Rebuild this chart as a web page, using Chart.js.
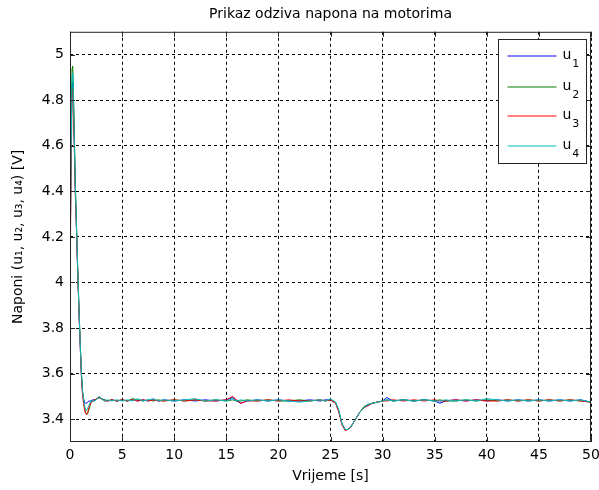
<!DOCTYPE html>
<html lang="hr">
<head>
<meta charset="utf-8">
<title>Prikaz odziva napona na motorima</title>
<script src="https://cdn.jsdelivr.net/npm/chart.js@4.4.0/dist/chart.umd.min.js"></script>
<style>
  html, body { margin: 0; padding: 0; background: #fff; }
</style>
</head>
<body>
<canvas id="odziv" width="599" height="490"></canvas>
<script>
// vrijeme [s]
const vrijeme = [
  0, 0.1, 0.2, 0.25, 0.3, 0.4, 0.5, 0.6, 0.7, 0.8,
  0.9, 1.0, 1.1, 1.2, 1.3, 1.4, 1.5, 1.6, 1.7, 1.8,
  1.9, 2.0, 2.2, 2.4, 2.6, 2.8, 3.0, 3.3, 3.6, 4.0,
  4.5, 5, 5.5, 6, 6.5, 7, 7.5, 8, 8.5, 9,
  10, 11, 12, 13, 14, 15, 15.6, 16, 16.4, 17,
  18, 19, 20, 21, 22, 23, 24, 24.5, 25, 25.5,
  25.8, 26.1, 26.4, 26.7, 27.0, 27.4, 27.8, 28.2, 28.6, 29.0,
  29.5, 30, 30.4, 31, 32, 33, 34, 35, 35.5, 36,
  37, 38, 39, 40, 41, 42, 43, 44, 45, 46,
  47, 48, 49, 50
];

// naponi motora [V]
const u1 = [
  3.99, 4.60, 4.87, 4.88, 4.84, 4.64, 4.42, 4.27, 4.11, 3.96,
  3.82, 3.70, 3.59, 3.52, 3.49, 3.475, 3.47, 3.47, 3.475, 3.48,
  3.48, 3.48, 3.485, 3.485, 3.49, 3.495, 3.49, 3.485, 3.48, 3.485,
  3.48, 3.485, 3.48, 3.485, 3.48, 3.485, 3.48, 3.485, 3.48, 3.485,
  3.48, 3.485, 3.48, 3.485, 3.48, 3.485, 3.495, 3.48, 3.47, 3.48,
  3.485, 3.48, 3.485, 3.48, 3.48, 3.485, 3.48, 3.485, 3.485, 3.47,
  3.435, 3.38, 3.355, 3.355, 3.37, 3.40, 3.43, 3.45, 3.46, 3.47,
  3.475, 3.48, 3.495, 3.48, 3.485, 3.48, 3.485, 3.48, 3.47, 3.48,
  3.485, 3.48, 3.485, 3.48, 3.485, 3.48, 3.485, 3.48, 3.485, 3.48,
  3.485, 3.48, 3.485, 3.475
];
const u2 = [
  4.02, 4.70, 4.94, 4.95, 4.90, 4.70, 4.46, 4.29, 4.13, 3.98,
  3.84, 3.72, 3.60, 3.52, 3.48, 3.45, 3.43, 3.42, 3.425, 3.44,
  3.455, 3.47, 3.48, 3.485, 3.49, 3.495, 3.49, 3.485, 3.48, 3.485,
  3.48, 3.485, 3.48, 3.49, 3.485, 3.48, 3.485, 3.48, 3.485, 3.48,
  3.485, 3.48, 3.485, 3.48, 3.485, 3.48, 3.485, 3.48, 3.48, 3.485,
  3.48, 3.485, 3.48, 3.48, 3.485, 3.48, 3.485, 3.48, 3.485, 3.47,
  3.435, 3.38, 3.355, 3.355, 3.37, 3.40, 3.43, 3.455, 3.465, 3.47,
  3.475, 3.48, 3.485, 3.48, 3.485, 3.48, 3.485, 3.48, 3.485, 3.48,
  3.48, 3.485, 3.48, 3.485, 3.48, 3.485, 3.48, 3.485, 3.48, 3.485,
  3.48, 3.485, 3.48, 3.475
];
const u3 = [
  3.97, 4.45, 4.82, 4.85, 4.80, 4.62, 4.40, 4.26, 4.10, 3.96,
  3.82, 3.70, 3.58, 3.51, 3.47, 3.44, 3.425, 3.42, 3.43, 3.45,
  3.46, 3.475, 3.48, 3.485, 3.49, 3.50, 3.49, 3.48, 3.48, 3.485,
  3.48, 3.485, 3.48, 3.485, 3.48, 3.485, 3.48, 3.485, 3.48, 3.48,
  3.485, 3.48, 3.485, 3.48, 3.48, 3.485, 3.50, 3.485, 3.47, 3.48,
  3.48, 3.485, 3.48, 3.485, 3.48, 3.48, 3.485, 3.48, 3.485, 3.47,
  3.43, 3.375, 3.35, 3.355, 3.37, 3.40, 3.43, 3.45, 3.46, 3.47,
  3.475, 3.48, 3.48, 3.485, 3.48, 3.485, 3.48, 3.485, 3.48, 3.48,
  3.485, 3.48, 3.485, 3.48, 3.48, 3.485, 3.48, 3.485, 3.48, 3.485,
  3.48, 3.485, 3.48, 3.475
];
const u4 = [
  4.00, 4.55, 4.90, 4.92, 4.88, 4.66, 4.44, 4.28, 4.12, 3.97,
  3.83, 3.71, 3.60, 3.53, 3.49, 3.46, 3.44, 3.44, 3.45, 3.46,
  3.47, 3.48, 3.48, 3.48, 3.49, 3.50, 3.49, 3.48, 3.485, 3.48,
  3.485, 3.48, 3.485, 3.48, 3.49, 3.48, 3.485, 3.49, 3.48, 3.485,
  3.48, 3.485, 3.49, 3.48, 3.485, 3.48, 3.49, 3.48, 3.485, 3.48,
  3.485, 3.48, 3.485, 3.48, 3.475, 3.48, 3.485, 3.48, 3.49, 3.475,
  3.44, 3.38, 3.355, 3.355, 3.37, 3.40, 3.43, 3.45, 3.465, 3.47,
  3.475, 3.48, 3.485, 3.48, 3.485, 3.48, 3.485, 3.48, 3.48, 3.485,
  3.48, 3.485, 3.48, 3.49, 3.485, 3.48, 3.485, 3.48, 3.485, 3.48,
  3.485, 3.48, 3.485, 3.475
];

const nazivi = ['1', '2', '3', '4'];
const boje = ['#0000ff', '#008000', '#ff0000', '#00bfbf'];
const naponTicks = [3.4, 3.6, 3.8, 4, 4.2, 4.4, 4.6, 4.8, 5];

const FONT = 'DejaVu Sans';

function tocke(niz) {
  return niz.map((v, i) => ({ x: vrijeme[i], y: v }));
}

// okvir s unutarnjim crticama i legenda u gornjem desnom kutu
const okvir = {
  id: 'okvir',
  afterLayout(chart) {
    // naslov centriran iznad podrucja grafa
    if (chart.titleBlock) {
      chart.titleBlock.left = chart.chartArea.left;
      chart.titleBlock.right = chart.chartArea.right;
    }
  },
  afterDatasetsDraw(chart) {
    const { ctx, chartArea: a, scales: { x, y } } = chart;
    ctx.save();
    ctx.strokeStyle = '#262626';
    ctx.lineWidth = 1;
    ctx.strokeRect(a.left + 0.5, a.top + 0.5, a.right - a.left - 1, a.bottom - a.top - 1);
    ctx.beginPath();
    x.ticks.forEach(t => {
      const px = Math.round(x.getPixelForValue(t.value)) + 0.5;
      ctx.moveTo(px, a.bottom); ctx.lineTo(px, a.bottom - 5);
      ctx.moveTo(px, a.top); ctx.lineTo(px, a.top + 5);
    });
    y.ticks.forEach(t => {
      const py = Math.round(y.getPixelForValue(t.value)) + 0.5;
      ctx.moveTo(a.left, py); ctx.lineTo(a.left + 5, py);
      ctx.moveTo(a.right, py); ctx.lineTo(a.right - 5, py);
    });
    ctx.stroke();

    // legenda
    const bx = Math.round(a.right) - 92.5, by = Math.round(a.top) + 7.5;
    const bw = 88, bh = 124;
    ctx.fillStyle = '#fff';
    ctx.fillRect(bx, by, bw, bh);
    ctx.strokeStyle = '#262626';
    ctx.strokeRect(bx, by, bw, bh);
    const razmak = [16, 47, 76, 106];
    chart.data.datasets.forEach((ds, i) => {
      const ly = Math.round(by + razmak[i]);
      ctx.strokeStyle = ds.borderColor;
      ctx.lineWidth = 1;
      ctx.beginPath();
      ctx.moveTo(bx + 9, ly);
      ctx.lineTo(bx + 58, ly);
      ctx.stroke();
      ctx.fillStyle = '#000';
      ctx.textBaseline = 'alphabetic';
      ctx.textAlign = 'left';
      ctx.font = '14px "' + FONT + '"';
      ctx.fillText('u', bx + 64, ly + 3);
      const w = ctx.measureText('u').width;
      ctx.font = '11px "' + FONT + '"';
      ctx.fillText(nazivi[i], bx + 64 + w + 1, ly + 11);
    });
    ctx.restore();
  }
};

new Chart(document.getElementById('odziv'), {
  type: 'line',
  data: {
    datasets: [u1, u2, u3, u4].map((niz, i) => ({
      label: 'u' + nazivi[i],
      data: tocke(niz),
      borderColor: boje[i],
      backgroundColor: boje[i],
      borderWidth: 1,
      pointRadius: 0,
      tension: 0,
      order: 4 - i
    }))
  },
  options: {
    responsive: false,
    animation: false,
    events: [],
    layout: { padding: 0 },
    plugins: {
      legend: { display: false },
      tooltip: { enabled: false },
      title: {
        display: true,
        text: 'Prikaz odziva napona na motorima',
        color: '#000',
        font: { family: FONT, size: 14, weight: 'normal' },
        padding: { top: 6, bottom: 9 }
      }
    },
    scales: {
      x: {
        type: 'linear',
        min: 0,
        max: 50,
        ticks: {
          stepSize: 5,
          color: '#000',
          padding: 5,
          maxRotation: 0,
          font: { family: FONT, size: 14 }
        },
        grid: { color: '#000', lineWidth: 1, drawTicks: false },
        border: { display: false, dash: [3, 3] },
        title: {
          display: true,
          text: 'Vrijeme [s]',
          color: '#000',
          font: { family: FONT, size: 14 },
          padding: { top: 5, bottom: 5 }
        },
        afterFit(s) {
          s.height = 48;
          // desni rub grafa do 591 px, oznaka "50" smije prijeci rub
          s.paddingLeft = 0;
          s.paddingRight = 8;
        }
      },
      y: {
        type: 'linear',
        min: 3.3,
        max: 5.1,
        afterBuildTicks(s) { s.ticks = naponTicks.map(v => ({ value: v })); },
        ticks: {
          color: '#000',
          padding: 6,
          font: { family: FONT, size: 14 },
          callback: v => String(v)
        },
        grid: { color: '#000', lineWidth: 1, drawTicks: false },
        border: { display: false, dash: [3, 3] },
        title: {
          display: true,
          text: 'Naponi (u\u2081, u\u2082, u\u2083, u\u2084) [V]',
          color: '#000',
          font: { family: FONT, size: 14 },
          padding: { top: 10, bottom: 10 }
        },
        afterFit(s) { s.width = 70; }
      }
    }
  },
  plugins: [okvir]
});
</script>
</body>
</html>
